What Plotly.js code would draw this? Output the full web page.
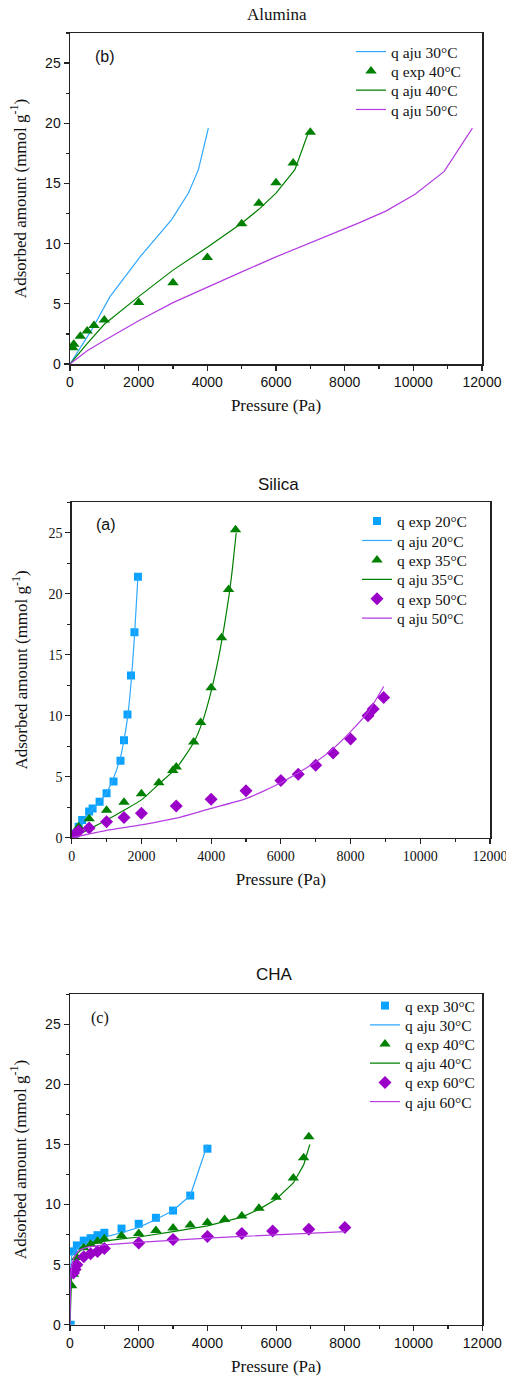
<!DOCTYPE html>
<html>
<head>
<meta charset="utf-8">
<script src="https://cdn.plot.ly/plotly-3.0.1.min.js"></script>
<style>html,body{margin:0;padding:0;background:#fff;}#chart{width:506px;height:1379px;}</style>
</head>
<body>
<div id="chart"></div>
<script>
// ---------- Data (Pressure in Pa, adsorbed amount in mmol/g) ----------
// Alumina
const aluAju30P = [0, 100, 300, 630, 1165, 2040, 2960, 3450, 3740, 4030];
const aluAju30Q = [0, 0.45, 1.35, 2.83, 5.6, 8.9, 12.0, 14.2, 16.15, 19.6];
const aluExp40P = [80, 110, 300, 500, 700, 1000, 2000, 3000, 4000, 5000, 5500, 6000, 6500, 7000];
const aluExp40Q = [1.35, 1.65, 2.3, 2.75, 3.2, 3.65, 5.1, 6.75, 8.85, 11.65, 13.35, 15.05, 16.7, 19.25];
const aluAju40P = [0, 500, 1000, 2000, 3000, 4000, 5000, 5500, 6000, 6550, 6950];
const aluAju40Q = [0, 1.7, 3.3, 5.6, 7.8, 9.7, 11.7, 12.85, 14.2, 16.15, 19.3];
const aluAju50P = [0, 500, 1000, 2000, 3000, 3500, 4000, 5000, 6000, 7000, 8400, 9200, 10050, 10900, 11720];
const aluAju50Q = [0, 1.1, 1.95, 3.6, 5.1, 5.75, 6.4, 7.65, 8.9, 10.05, 11.7, 12.7, 14.1, 16.0, 19.6];

// Silica
const silExp20P = [100, 200, 300, 500, 600, 800, 1000, 1200, 1400, 1500, 1600, 1700, 1800, 1900];
const silExp20Q = [0.35, 0.9, 1.45, 2.15, 2.4, 2.95, 3.65, 4.6, 6.3, 8.0, 10.1, 13.3, 16.85, 21.4];
const silAju20P = [0, 100, 200, 400, 600, 800, 1000, 1200, 1400, 1500, 1600, 1700, 1800, 1900];
const silAju20Q = [0, 0.5, 0.95, 1.7, 2.35, 2.95, 3.7, 4.9, 6.6, 8.0, 9.8, 12.6, 16.5, 21.4];
const silExp35P = [200, 500, 1000, 1500, 2000, 2500, 2900, 3000, 3500, 3700, 4000, 4300, 4500, 4700];
const silExp35Q = [0.9, 1.55, 2.25, 2.9, 3.6, 4.5, 5.5, 5.8, 7.85, 9.45, 12.3, 16.4, 20.35, 25.25];
const silAju35P = [0, 500, 1000, 1500, 2000, 2500, 3000, 3500, 3750, 4000, 4250, 4500, 4600, 4720];
const silAju35Q = [0, 0.7, 1.45, 2.25, 3.1, 4.4, 5.7, 7.8, 9.5, 12.0, 15.3, 19.6, 21.8, 25.0];
const silExp50P = [100, 200, 500, 1000, 1500, 2000, 3000, 4000, 5000, 6000, 6500, 7000, 7500, 8000, 8500, 8650, 8950];
const silExp50Q = [0.3, 0.55, 0.8, 1.3, 1.65, 2.0, 2.6, 3.15, 3.85, 4.7, 5.2, 5.95, 6.95, 8.1, 10.0, 10.55, 11.5];
const silAju50P = [0, 1000, 2000, 3000, 4000, 5000, 6000, 7000, 7500, 8000, 8500, 8950];
const silAju50Q = [0, 0.6, 1.05, 1.6, 2.4, 3.2, 4.5, 6.2, 7.3, 8.7, 10.3, 12.4];

// CHA
const chaExp30P = [20, 100, 200, 400, 600, 800, 1000, 1500, 2000, 2500, 3000, 3500, 4000];
const chaExp30Q = [0, 6.1, 6.6, 7.0, 7.2, 7.45, 7.65, 8.0, 8.4, 8.9, 9.5, 10.75, 14.65];
const chaAju30P = [0, 10, 50, 100, 200, 400, 600, 800, 1000, 1500, 2000, 2500, 3000, 3500, 4000];
const chaAju30Q = [0, 4.5, 5.7, 6.0, 6.4, 6.8, 7.0, 7.15, 7.3, 7.65, 8.1, 8.75, 9.5, 10.75, 15.0];
const chaExp40P = [50, 100, 200, 400, 600, 800, 1000, 1500, 2000, 2500, 3000, 3500, 4000, 4500, 5000, 5500, 6000, 6500, 6800, 6950];
const chaExp40Q = [3.25, 4.2, 5.6, 6.4, 6.7, 6.95, 7.15, 7.4, 7.6, 7.85, 8.05, 8.3, 8.5, 8.75, 9.05, 9.7, 10.6, 12.2, 13.9, 15.65];
const chaAju40P = [0, 20, 50, 100, 200, 400, 600, 800, 1000, 1500, 2000, 3000, 4000, 5000, 5500, 6000, 6500, 6800, 6980];
const chaAju40Q = [0, 3.0, 4.3, 5.2, 5.9, 6.4, 6.65, 6.8, 6.95, 7.15, 7.3, 7.75, 8.22, 8.95, 9.6, 10.45, 11.8, 13.3, 15.0];
const chaExp60P = [100, 150, 200, 400, 600, 800, 1000, 2000, 3000, 4000, 5000, 5900, 6950, 8000];
const chaExp60Q = [4.3, 4.6, 5.0, 5.65, 5.9, 6.1, 6.35, 6.8, 7.1, 7.35, 7.6, 7.8, 7.95, 8.1];
const chaAju60P = [0, 20, 50, 100, 200, 300, 500, 1000, 2000, 3000, 4000, 5000, 6000, 7000, 8000];
const chaAju60Q = [0, 4.0, 4.9, 5.5, 6.0, 6.25, 6.45, 6.65, 6.85, 7.05, 7.2, 7.35, 7.5, 7.62, 7.75];

const xTickVals = [0, 2000, 4000, 6000, 8000, 10000, 12000];
const yTickVals = [0, 5, 10, 15, 20, 25];

// ---------- Styling ----------
const W = 506, H = 1379;
const px = x => x / W;
const py = y => 1 - y / H;
const SERIF = 'Liberation Serif, Times New Roman, serif';
const SANS = 'Liberation Sans, Arial, sans-serif';
const BLUE_M = '#0aa2ff', BLUE_L = '#2fa8ff';
const GREEN = '#008000';
const MAG_M = '#9a00c8', MAG_L = '#b43ce2';

let legendCount = 0;
const layoutLegends = {};
function nextLegend(x, y) {
  legendCount++;
  const id = legendCount === 1 ? 'legend' : 'legend' + legendCount;
  layoutLegends[id] = {
    x: px(x), y: py(y), xanchor: 'left', yanchor: 'middle',
    bgcolor: 'rgba(0,0,0,0)', borderwidth: 0,
    font: {family: SERIF, size: 15.5, color: '#111'}
  };
  return id;
}

function lineTrace(xs, ys, name, color, ax, leg, shape) {
  return {x: xs, y: ys, name: name, type: 'scatter', mode: 'lines',
    line: {color: color, width: 1.2, shape: shape || 'linear', smoothing: 0.6},
    xaxis: 'x' + ax, yaxis: 'y' + ax, legend: leg, hoverinfo: 'x+y'};
}
function markerTrace(xs, ys, name, color, symbol, size, ax, leg) {
  return {x: xs, y: ys, name: name, type: 'scatter', mode: 'markers',
    marker: {color: color, symbol: symbol, size: size, line: {width: 0}},
    xaxis: 'x' + ax, yaxis: 'y' + ax, legend: leg, hoverinfo: 'x+y'};
}

const deg = '\u00b0C';
const traces = [];
// Panel 1 (Alumina)
(function () {
  const lx = 351, y0 = 52, dy = 19.3;
  traces.push(lineTrace(aluAju30P, aluAju30Q, 'q aju 30' + deg, BLUE_L, '', nextLegend(lx, y0)));
  traces.push(markerTrace(aluExp40P, aluExp40Q, 'q exp 40' + deg, GREEN, 'triangle-up', 10, '', nextLegend(lx, y0 + dy)));
  traces.push(lineTrace(aluAju40P, aluAju40Q, 'q aju 40' + deg, GREEN, '', nextLegend(lx, y0 + 2 * dy)));
  traces.push(lineTrace(aluAju50P, aluAju50Q, 'q aju 50' + deg, MAG_L, '', nextLegend(lx, y0 + 3 * dy)));
})();
// Panel 2 (Silica)
(function () {
  const lx = 357, y0 = 521.5, dy = 19.4;
  traces.push(markerTrace(silExp20P, silExp20Q, 'q exp 20' + deg, BLUE_M, 'square', 8, '2', nextLegend(lx, y0)));
  traces.push(lineTrace(silAju20P, silAju20Q, 'q aju 20' + deg, BLUE_L, '2', nextLegend(lx, y0 + dy), 'spline'));
  traces.push(markerTrace(silExp35P, silExp35Q, 'q exp 35' + deg, GREEN, 'triangle-up', 10, '2', nextLegend(lx, y0 + 2 * dy)));
  traces.push(lineTrace(silAju35P, silAju35Q, 'q aju 35' + deg, GREEN, '2', nextLegend(lx, y0 + 3 * dy), 'spline'));
  traces.push(markerTrace(silExp50P, silExp50Q, 'q exp 50' + deg, MAG_M, 'diamond', 10, '2', nextLegend(lx, y0 + 4 * dy)));
  traces.push(lineTrace(silAju50P, silAju50Q, 'q aju 50' + deg, MAG_L, '2', nextLegend(lx, y0 + 5 * dy), 'spline'));
})();
// Panel 3 (CHA)
(function () {
  const lx = 365, y0 = 1006, dy = 19.2;
  traces.push(markerTrace(chaExp30P, chaExp30Q, 'q exp 30' + deg, BLUE_M, 'square', 8, '3', nextLegend(lx, y0)));
  traces.push(lineTrace(chaAju30P, chaAju30Q, 'q aju 30' + deg, BLUE_L, '3', nextLegend(lx, y0 + dy)));
  traces.push(markerTrace(chaExp40P, chaExp40Q, 'q exp 40' + deg, GREEN, 'triangle-up', 10, '3', nextLegend(lx, y0 + 2 * dy)));
  traces.push(lineTrace(chaAju40P, chaAju40Q, 'q aju 40' + deg, GREEN, '3', nextLegend(lx, y0 + 3 * dy)));
  traces.push(markerTrace(chaExp60P, chaExp60Q, 'q exp 60' + deg, MAG_M, 'diamond', 10, '3', nextLegend(lx, y0 + 4 * dy)));
  traces.push(lineTrace(chaAju60P, chaAju60Q, 'q aju 60' + deg, MAG_L, '3', nextLegend(lx, y0 + 5 * dy)));
})();

function xAxis(domain, anchor, tickFamily) {
  return {
    domain: domain, anchor: anchor, range: [0, 12000], autorange: false,
    tickvals: xTickVals, ticktext: xTickVals.map(String),
    ticks: 'outside', ticklen: 5, tickwidth: 1.2, tickcolor: '#222',
    ticklabeloverflow: 'allow',
    minor: {dtick: 1000, tick0: 0, ticks: 'outside', ticklen: 3, tickwidth: 1.2, tickcolor: '#222', showgrid: false},
    showline: true, linecolor: '#222', linewidth: 1.5, mirror: true,
    showgrid: false, zeroline: false,
    tickfont: {family: tickFamily, size: 14, color: '#111'},
    title: {text: 'Pressure (Pa)', font: {family: SERIF, size: 17, color: '#111'}, standoff: 10}
  };
}
const Y_TITLE = 'Adsorbed amount (mmol g<sup>-1</sup>)';
function yAxis(domain, anchor, tickFamily, titleText) {
  return {
    domain: domain, anchor: anchor, range: [0, 27.5], autorange: false,
    tickvals: yTickVals, ticktext: yTickVals.map(String),
    ticks: 'outside', ticklen: 5, tickwidth: 1.2, tickcolor: '#222',
    minor: {dtick: 2.5, tick0: 0, ticks: 'outside', ticklen: 3, tickwidth: 1.2, tickcolor: '#222', showgrid: false},
    showline: true, linecolor: '#222', linewidth: 1.5, mirror: true,
    showgrid: false, zeroline: false,
    tickfont: {family: tickFamily, size: 14, color: '#111'},
    title: {text: titleText || Y_TITLE, font: {family: SERIF, size: 17, color: '#111'}}
  };
}

function label(text, x, y, family, size) {
  return {text: text, x: px(x), y: py(y), xref: 'paper', yref: 'paper',
    xanchor: 'center', yanchor: 'middle', showarrow: false,
    font: {family: family, size: size, color: '#111'}};
}

// the Alumina y-title sits slightly above the plot centre in the reference
const pad = '\u00a0'.repeat(5);

const layout = Object.assign({
  width: W, height: H,
  margin: {l: 0, r: 0, t: 0, b: 0, pad: 0},
  paper_bgcolor: '#fff', plot_bgcolor: '#fff',
  showlegend: true,
  xaxis: xAxis([px(70), px(482)], 'y', SANS),
  yaxis: yAxis([py(364), py(33)], 'x', SANS, pad + Y_TITLE),
  xaxis2: xAxis([px(71.7), px(490)], 'y2', SERIF),
  yaxis2: yAxis([py(837.7), py(502.3)], 'x2', SERIF),
  xaxis3: xAxis([px(70), px(482.3)], 'y3', SANS),
  yaxis3: yAxis([py(1324.7), py(994.3)], 'x3', SANS),
  annotations: [
    label('Alumina', 277, 15, SERIF, 17),
    label('Silica', 278, 485, SANS, 17),
    label('CHA', 274, 974, SANS, 17),
    label('(b)', 105, 56, SANS, 16),
    label('(a)', 106, 525, SANS, 16),
    label('(c)', 100, 1018, SERIF, 16)
  ]
}, layoutLegends);

Plotly.newPlot('chart', traces, layout, {displayModeBar: false, staticPlot: true});
</script>
</body>
</html>
